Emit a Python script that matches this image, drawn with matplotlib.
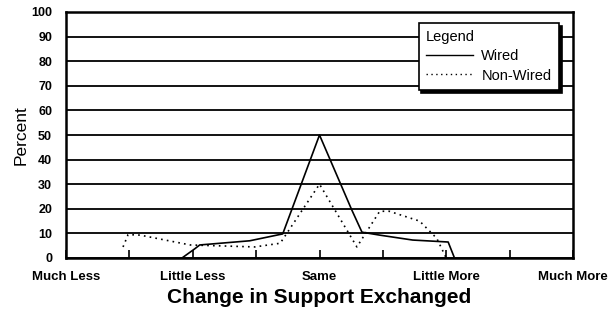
import matplotlib
matplotlib.use("Agg")
import matplotlib.pyplot as plt
from matplotlib.lines import Line2D
from matplotlib.ticker import MultipleLocator

plt.rcParams['font.family'] = ['Liberation Sans', 'DejaVu Sans']

# category labels sit on every second step of the x scale
categories = ["Much Less", "Little Less", "Same", "Little More", "Much More"]
category_pos = [0, 2, 4, 6, 8]

# smoothed curves (x in scale steps, y in percent)
wired_x = [1.83, 2.03, 2.11, 2.9, 3.42, 4.0, 4.51, 4.67, 4.95, 5.47, 6.03, 6.13]
wired_y = [0, 3.7, 5.3, 7, 9.8, 50, 19.5, 10.5, 9.3, 7.3, 6.5, 0]

nonwired_x = [0.9, 0.98, 1.17, 1.96, 2.98, 3.38, 4.0, 4.59, 4.95, 5.1, 5.58, 5.85, 6.0]
nonwired_y = [4.5, 9.5, 9.3, 5.3, 4.5, 6, 30, 4.5, 19, 19, 15, 8, 0]

fig = plt.figure(figsize=(6.08, 3.15), dpi=100)
ax = fig.add_axes([66 / 608, 57 / 315, 507 / 608, 246 / 315])

ax.plot(wired_x, wired_y, color='black', linewidth=1.2, linestyle='-')
ax.plot(nonwired_x, nonwired_y, color='black', linewidth=1.2, linestyle=(0, (1, 2.5)))

ax.set_xlim(0, 8)
ax.set_ylim(0, 100)

# horizontal gridlines at every 10 percent
ax.yaxis.set_major_locator(MultipleLocator(10))
ax.grid(axis='y', color='black', linewidth=1.3)
ax.set_axisbelow(True)

ax.set_xticks(category_pos)
ax.set_xticklabels(categories, fontsize=9.5, fontweight='bold')
ax.xaxis.set_minor_locator(MultipleLocator(1))
ax.tick_params(axis='x', which='both', direction='in', length=6, width=1.2, pad=9)
ax.tick_params(axis='y', length=0, labelsize=9, pad=10)
for lbl in ax.get_yticklabels():
    lbl.set_fontweight('bold')

for s in ax.spines.values():
    s.set_linewidth(1.8)

ax.set_ylabel("Percent", fontsize=12.5, labelpad=2)
ax.set_xlabel("Change in Support Exchanged", fontsize=15, fontweight='bold', labelpad=4)

handles = [Line2D([], [], color='black', linewidth=1, linestyle='-'),
           Line2D([], [], color='black', linewidth=1, linestyle=(0, (1, 2.5)))]
leg = ax.legend(handles, ["Wired", "Non-Wired"], title="Legend", loc='upper right',
                bbox_to_anchor=(0.972, 0.955), fontsize=10.5, title_fontsize=10.5,
                frameon=True, fancybox=False, shadow={'color': 'black', 'alpha': 1},
                framealpha=1, edgecolor='black', handlelength=3.2, handletextpad=0.6,
                borderpad=0.5, labelspacing=0.35, borderaxespad=0)
leg._legend_box.align = "left"
leg.get_frame().set_linewidth(1.2)

fig.savefig("out.png", dpi=100)
